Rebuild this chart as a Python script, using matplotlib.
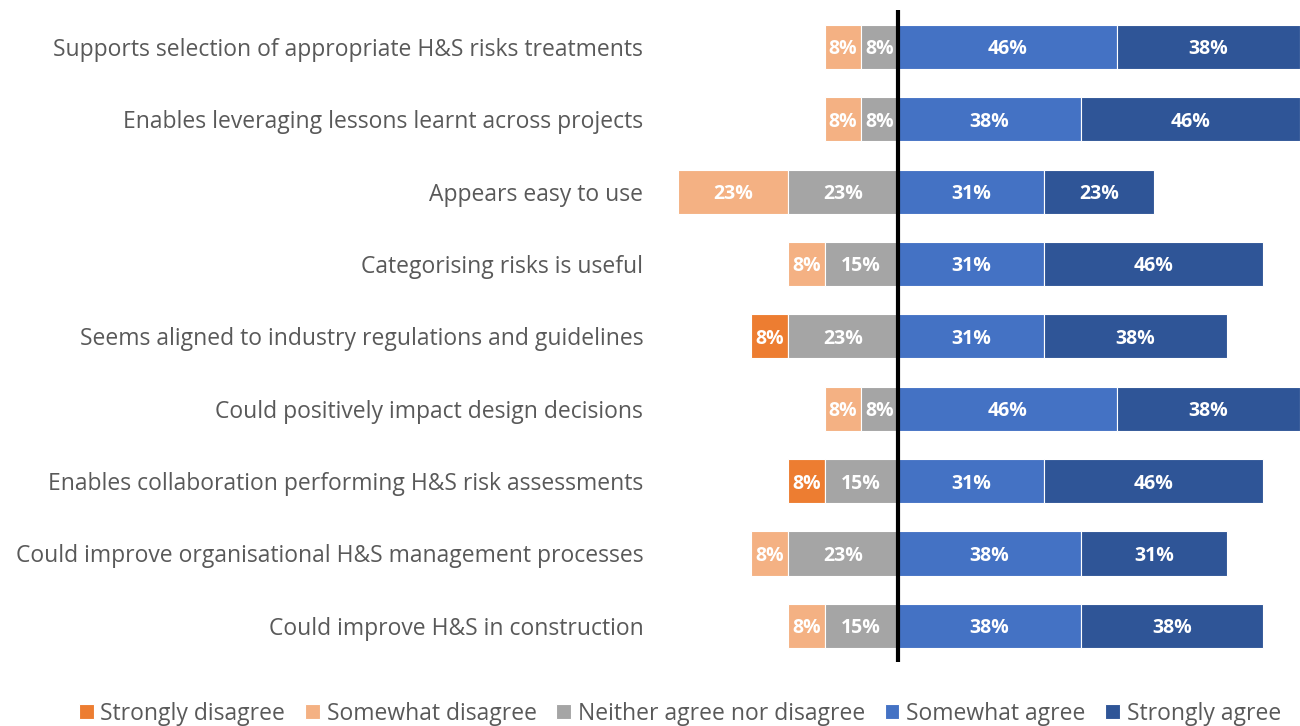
import matplotlib.pyplot as plt
import numpy as np

plt.rcParams['font.family'] = ['Open Sans', 'DejaVu Sans']

# survey items, top to bottom
categories = [
    "Supports selection of appropriate H&S risks treatments",
    "Enables leveraging lessons learnt across projects",
    "Appears easy to use",
    "Categorising risks is useful",
    "Seems aligned to industry regulations and guidelines",
    "Could positively impact design decisions",
    "Enables collaboration performing H&S risk assessments",
    "Could improve organisational H&S management processes",
    "Could improve H&S in construction",
]

strongly_disagree = [0, 0, 0, 0, 7.69, 0, 7.69, 0, 0]
somewhat_disagree = [7.69, 7.69, 23.08, 7.69, 0, 7.69, 0, 7.69, 7.69]
neither = [7.69, 7.69, 23.08, 15.38, 23.08, 7.69, 15.38, 23.08, 15.38]
somewhat_agree = [46.15, 38.46, 30.77, 30.77, 30.77, 46.15, 30.77, 38.46, 38.46]
strongly_agree = [38.46, 46.15, 23.08, 46.15, 38.46, 38.46, 46.15, 30.77, 38.46]

series_names = ["Strongly disagree", "Somewhat disagree",
                "Neither agree nor disagree", "Somewhat agree", "Strongly agree"]
colors = ["#ED7D31", "#F4B183", "#A5A5A5", "#4472C4", "#2F5597"]

fig = plt.figure(figsize=(13, 7.26), dpi=100)
ax = fig.add_axes([660 / 1300, 1 - 662 / 726, 640 / 1300, 652 / 726])

y = np.arange(len(categories))
sd = np.array(strongly_disagree)
swd = np.array(somewhat_disagree)
nt = np.array(neither)
sa = np.array(somewhat_agree)
sta = np.array(strongly_agree)

# negative side stacks outward from zero
segments = [
    (sd, -(nt + swd + sd)),
    (swd, -(nt + swd)),
    (nt, -nt),
    (sa, np.zeros_like(sa)),
    (sta, sa),
]

h = 0.61
for (vals, left), color, name in zip(segments, colors, series_names):
    ax.barh(y, vals, left=left, height=h, color=color, edgecolor='white',
            linewidth=0.8, label=name)
    for yi, v, l in zip(y, vals, left):
        if v > 0:
            ax.text(l + v / 2, yi, f"{v:.0f}%", ha='center', va='center_baseline',
                    color='white', fontsize=14, fontweight='bold')

ax.axvline(0, color='black', linewidth=3, zorder=5)

ax.set_xlim(-50, 84.6)
ax.set_ylim(8.5, -0.51)
ax.set_yticks(y)
ax.set_yticklabels(categories, fontsize=16.5, color='#595959')
ax.tick_params(axis='y', length=0, pad=12)
ax.set_xticks([])
for s in ax.spines.values():
    s.set_visible(False)

fig.legend(loc='lower center', bbox_to_anchor=(0.523, -0.028), ncol=5,
           frameon=False, fontsize=16.5, labelcolor='#595959',
           handlelength=0.65, handleheight=0.65, handletextpad=0.3,
           columnspacing=0.85)

fig.savefig("out.png", dpi=100)
